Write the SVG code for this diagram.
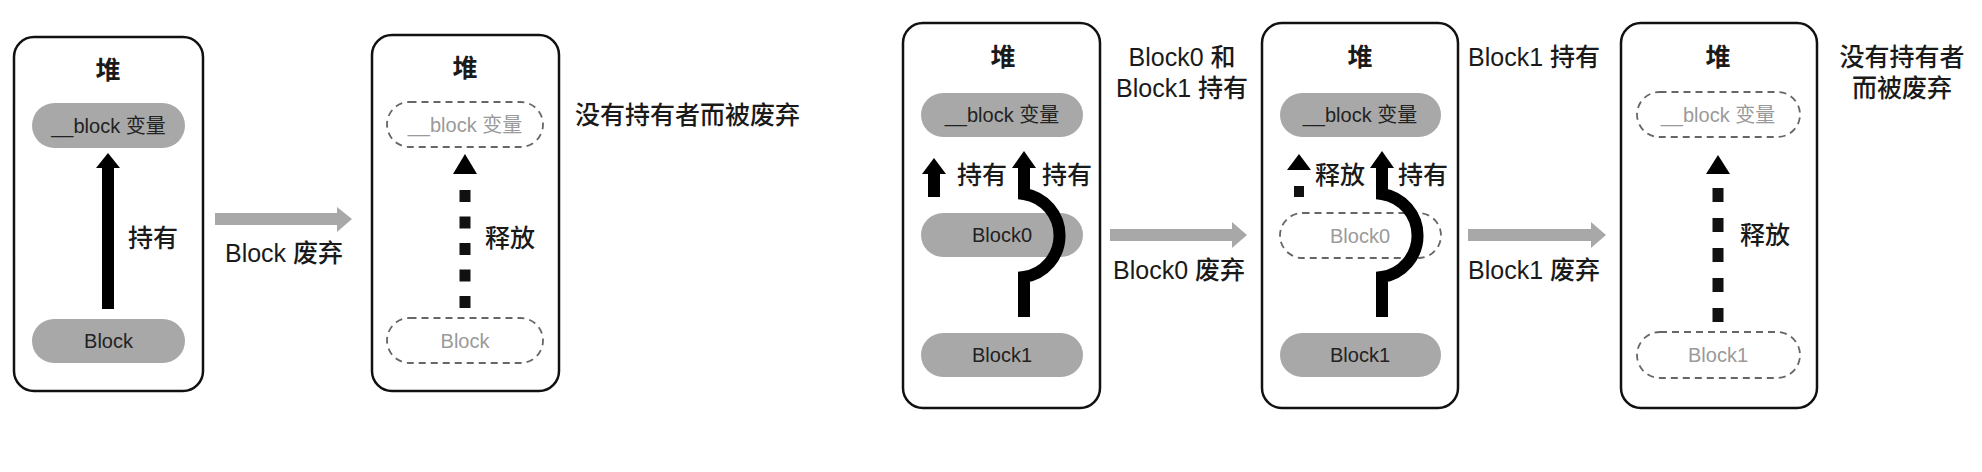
<svg xmlns="http://www.w3.org/2000/svg" width="1982" height="472" viewBox="0 0 1982 472">
<style>
  text { font-family: "Liberation Sans", "Noto Sans CJK SC", sans-serif; fill: #1a1a1a; }
  .heap { fill: #fff; stroke: #111; stroke-width: 2.5; }
  .head { font-size: 25px; font-weight: bold; text-anchor: middle; }
  .pill { fill: #a8a8a8; stroke: none; }
  .dpill { fill: #fff; stroke: #666; stroke-width: 1.8; stroke-dasharray: 7 5; }
  .pt { font-size: 20px; text-anchor: middle; fill: #222; }
  .dpt { font-size: 20px; text-anchor: middle; fill: #9a9a9a; }
  .lbl { font-size: 25px; font-weight: 500; }
  .mid { text-anchor: middle; }
  .shaft { stroke: #000; stroke-width: 12; fill: none; }
  .dshaft { stroke: #111; stroke-width: 11; fill: none; }
  .ah { fill: #000; }
  .gray { fill: #a8a8a8; }
</style>

<!-- Scene 1 -->
<g id="heap1">
  <rect class="heap" x="14" y="37" width="189" height="354" rx="20"/>
  <text class="head" x="108" y="79">堆</text>
</g>
<g id="var1">
  <rect class="pill" x="32" y="103" width="153" height="45" rx="22.5"/>
  <text class="pt" x="108.5" y="133">__block 变量</text>
</g>
<g id="block1a">
  <rect class="pill" x="32" y="319" width="153" height="44" rx="22"/>
  <text class="pt" x="108.5" y="348">Block</text>
</g>

<g id="heap2">
  <rect class="heap" x="372" y="35" width="187" height="356" rx="20"/>
  <text class="head" x="465" y="77">堆</text>
</g>
<g id="var2">
  <rect class="dpill" x="387" y="102" width="156" height="45" rx="22.5"/>
  <text class="dpt" x="465" y="132">__block 变量</text>
</g>
<g id="block2a">
  <rect class="dpill" x="387" y="318" width="156" height="45" rx="22.5"/>
  <text class="dpt" x="465" y="348">Block</text>
</g>
<g id="note2">
  <text class="lbl" x="575" y="124">没有持有者而被废弃</text>
</g>

<!-- Scene 2 -->
<g id="heap3">
  <rect class="heap" x="903" y="23" width="197" height="385" rx="20"/>
  <text class="head" x="1003" y="66">堆</text>
</g>
<g id="var3">
  <rect class="pill" x="921" y="93" width="162" height="44" rx="22"/>
  <text class="pt" x="1002" y="122">__block 变量</text>
</g>
<g id="block0a">
  <rect class="pill" x="921" y="213" width="162" height="44" rx="22"/>
  <text class="pt" x="1002" y="242">Block0</text>
</g>
<g id="block1b">
  <rect class="pill" x="921" y="333" width="162" height="44" rx="22"/>
  <text class="pt" x="1002" y="362">Block1</text>
</g>
<g id="note3">
  <text class="lbl mid" x="1182" y="66">Block0 和</text>
  <text class="lbl mid" x="1182" y="97">Block1 持有</text>
</g>

<g id="heap4">
  <rect class="heap" x="1262" y="23" width="196" height="385" rx="20"/>
  <text class="head" x="1360" y="66">堆</text>
</g>
<g id="var4">
  <rect class="pill" x="1280" y="93" width="161" height="44" rx="22"/>
  <text class="pt" x="1360" y="122">__block 变量</text>
</g>
<g id="block0b">
  <rect class="dpill" x="1280" y="213" width="161" height="45" rx="22.5"/>
  <text class="dpt" x="1360" y="243">Block0</text>
</g>
<g id="block1c">
  <rect class="pill" x="1280" y="333" width="161" height="44" rx="22"/>
  <text class="pt" x="1360" y="362">Block1</text>
</g>
<g id="note4">
  <text class="lbl" x="1468" y="66">Block1 持有</text>
</g>

<g id="heap5">
  <rect class="heap" x="1621" y="23" width="196" height="385" rx="20"/>
  <text class="head" x="1718" y="66">堆</text>
</g>
<g id="var5">
  <rect class="dpill" x="1637" y="92" width="163" height="45" rx="22.5"/>
  <text class="dpt" x="1718" y="122">__block 变量</text>
</g>
<g id="block1d">
  <rect class="dpill" x="1637" y="332" width="163" height="46" rx="23"/>
  <text class="dpt" x="1718" y="362">Block1</text>
</g>
<g id="note5">
  <text class="lbl mid" x="1902" y="66">没有持有者</text>
  <text class="lbl mid" x="1902" y="97">而被废弃</text>
</g>

<!-- Connectors -->
<g id="connectors">
  <!-- scene 1 hold -->
  <line class="shaft" x1="108" y1="309" x2="108" y2="166"/>
  <polygon class="ah" points="96,168 120,168 108,153"/>
  <text class="lbl" x="128" y="247">持有</text>

  <!-- transition 1 -->
  <rect class="gray" x="215" y="213" width="123" height="12"/>
  <polygon class="gray" points="337,207 352,219 337,232"/>
  <text class="lbl mid" x="284" y="262">Block 废弃</text>

  <!-- scene 1 release -->
  <line class="dshaft" x1="465" y1="308" x2="465" y2="190" stroke-dasharray="12 14.5"/>
  <polygon class="ah" points="453,174 477,174 465,154"/>
  <text class="lbl" x="485" y="247">释放</text>

  <!-- scene 2 left hold -->
  <line class="shaft" x1="934" y1="197" x2="934" y2="172"/>
  <polygon class="ah" points="922,174 946,174 934,158"/>
  <text class="lbl" x="957" y="184">持有</text>

  <!-- scene 2 curved hold -->
  <path class="shaft" d="M1024,317 L1024,277 A42,42 0 0 0 1024,194 L1024,166"/>
  <polygon class="ah" points="1012,168 1036,168 1024,151"/>
  <text class="lbl" x="1042" y="184">持有</text>

  <!-- transition 2 -->
  <rect class="gray" x="1110" y="229" width="123" height="12"/>
  <polygon class="gray" points="1232,222 1247,235 1232,248"/>
  <text class="lbl mid" x="1179" y="279">Block0 废弃</text>

  <!-- scene 3 left release -->
  <rect fill="#111" x="1294" y="186" width="10" height="11"/>
  <polygon class="ah" points="1287,170 1311,170 1299,154"/>
  <text class="lbl" x="1315" y="184">释放</text>

  <!-- scene 3 curved hold -->
  <path class="shaft" d="M1382,317 L1382,277 A42,42 0 0 0 1382,194 L1382,166"/>
  <polygon class="ah" points="1370,168 1394,168 1382,151"/>
  <text class="lbl" x="1398" y="184">持有</text>

  <!-- transition 3 -->
  <rect class="gray" x="1468" y="229" width="124" height="12"/>
  <polygon class="gray" points="1591,222 1606,235 1591,248"/>
  <text class="lbl" x="1468" y="279">Block1 废弃</text>

  <!-- scene 3 release -->
  <line class="dshaft" x1="1718" y1="322" x2="1718" y2="188" stroke-dasharray="14 16"/>
  <polygon class="ah" points="1706,174 1730,174 1718,155"/>
  <text class="lbl" x="1740" y="244">释放</text>
</g>
</svg>
